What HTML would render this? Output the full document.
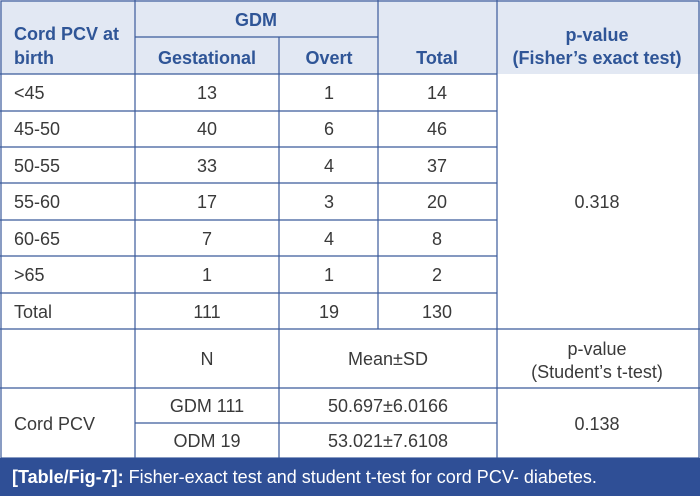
<!DOCTYPE html>
<html><head><style>
body{margin:0;background:#fff}
svg{display:block}
text{font-family:"Liberation Sans",sans-serif;font-size:18px;fill:#3a3a3a}
.h{fill:#2f5597;font-weight:bold}
</style></head><body>
<svg width="700" height="496" viewBox="0 0 700 496">
<rect x="0" y="0" width="700" height="74" fill="#e2e8f3"/>
<g stroke="#3b5b9b" stroke-width="1.2" fill="none">
<rect x="1" y="1" width="698" height="457"/>
<line x1="135" y1="37" x2="378" y2="37"/>
<line x1="0" y1="74" x2="497" y2="74"/>
<line x1="0" y1="111" x2="497" y2="111"/>
<line x1="0" y1="147" x2="497" y2="147"/>
<line x1="0" y1="183" x2="497" y2="183"/>
<line x1="0" y1="220" x2="497" y2="220"/>
<line x1="0" y1="256" x2="497" y2="256"/>
<line x1="0" y1="293" x2="497" y2="293"/>
<line x1="0" y1="329" x2="700" y2="329"/>
<line x1="0" y1="388" x2="700" y2="388"/>
<line x1="135" y1="423" x2="497" y2="423"/>
<line x1="135" y1="0" x2="135" y2="458"/>
<line x1="279" y1="37" x2="279" y2="458"/>
<line x1="378" y1="0" x2="378" y2="329"/>
<line x1="497" y1="0" x2="497" y2="458"/>
</g>
<text class="h" x="14" y="40">Cord PCV at</text>
<text class="h" x="14" y="64">birth</text>
<text class="h" x="256" y="26" text-anchor="middle">GDM</text>
<text class="h" x="207" y="64" text-anchor="middle">Gestational</text>
<text class="h" x="329" y="64" text-anchor="middle">Overt</text>
<text class="h" x="437" y="64" text-anchor="middle">Total</text>
<text class="h" x="597" y="41" text-anchor="middle">p-value</text>
<text class="h" x="597" y="64" text-anchor="middle">(Fisher’s exact test)</text>
<g>
<text x="14" y="99">&lt;45</text><text x="207" y="99" text-anchor="middle">13</text><text x="329" y="99" text-anchor="middle">1</text><text x="437" y="99" text-anchor="middle">14</text>
<text x="14" y="135">45-50</text><text x="207" y="135" text-anchor="middle">40</text><text x="329" y="135" text-anchor="middle">6</text><text x="437" y="135" text-anchor="middle">46</text>
<text x="14" y="172">50-55</text><text x="207" y="172" text-anchor="middle">33</text><text x="329" y="172" text-anchor="middle">4</text><text x="437" y="172" text-anchor="middle">37</text>
<text x="14" y="208">55-60</text><text x="207" y="208" text-anchor="middle">17</text><text x="329" y="208" text-anchor="middle">3</text><text x="437" y="208" text-anchor="middle">20</text>
<text x="14" y="245">60-65</text><text x="207" y="245" text-anchor="middle">7</text><text x="329" y="245" text-anchor="middle">4</text><text x="437" y="245" text-anchor="middle">8</text>
<text x="14" y="281">&gt;65</text><text x="207" y="281" text-anchor="middle">1</text><text x="329" y="281" text-anchor="middle">1</text><text x="437" y="281" text-anchor="middle">2</text>
<text x="14" y="318">Total</text><text x="207" y="318" text-anchor="middle">111</text><text x="329" y="318" text-anchor="middle">19</text><text x="437" y="318" text-anchor="middle">130</text>
<text x="597" y="208" text-anchor="middle">0.318</text>
<text x="207" y="365" text-anchor="middle">N</text>
<text x="388" y="365" text-anchor="middle">Mean±SD</text>
<text x="597" y="355" text-anchor="middle">p-value</text>
<text x="597" y="378" text-anchor="middle">(Student’s t-test)</text>
<text x="14" y="430">Cord PCV</text>
<text x="207" y="412" text-anchor="middle">GDM 111</text>
<text x="388" y="412" text-anchor="middle">50.697±6.0166</text>
<text x="207" y="447" text-anchor="middle">ODM 19</text>
<text x="388" y="447" text-anchor="middle">53.021±7.6108</text>
<text x="597" y="430" text-anchor="middle">0.138</text>
</g>
<rect x="0" y="458" width="700" height="38" fill="#2f4f96"/>
<text x="12" y="483" style="fill:#fff;font-size:18px"><tspan font-weight="bold">[Table/Fig-7]:</tspan> Fisher-exact test and student t-test for cord PCV- diabetes.</text>
</svg>
</body></html>
